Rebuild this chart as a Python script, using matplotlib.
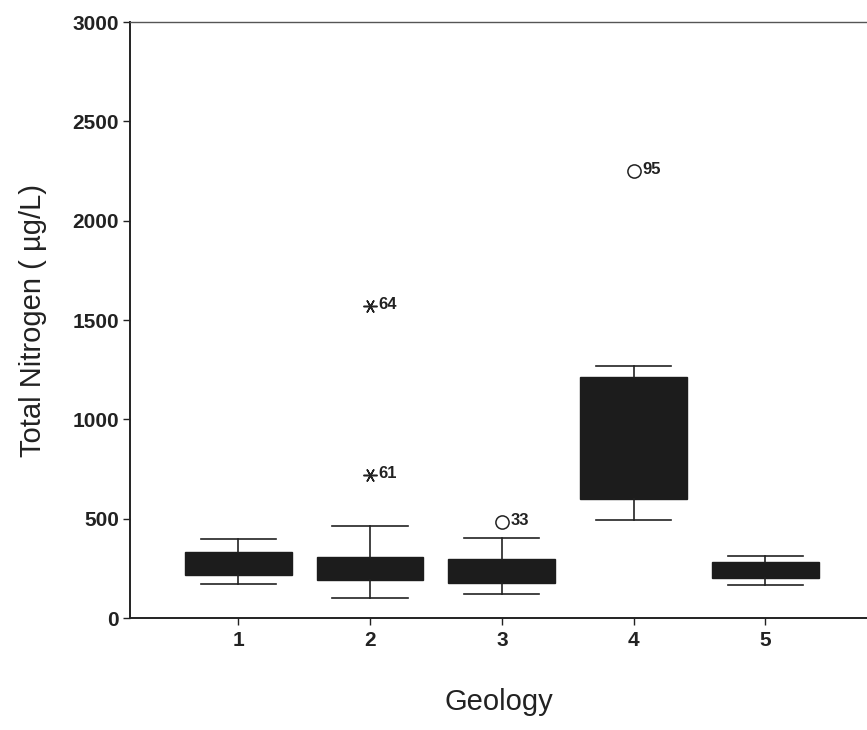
import matplotlib
matplotlib.use("Agg")
import matplotlib.pyplot as plt

plt.rcParams["font.family"] = ["Liberation Sans", "DejaVu Sans"]

# box summaries (ug/L)
geology = [1, 2, 3, 4, 5]
whisker_low = [172, 100, 120, 495, 165]
q1 = [215, 190, 178, 600, 200]
median = [280, 245, 235, 900, 235]
q3 = [332, 308, 295, 1215, 282]
whisker_high = [398, 465, 405, 1270, 312]

# labelled outliers: (group, value, case id, marker)
out_group = [2, 2, 3, 4]
out_value = [1570, 722, 485, 2250]
out_label = ["64", "61", "33", "95"]
out_kind = ["extreme", "extreme", "outlier", "outlier"]

stats = []
for i in range(len(geology)):
    stats.append({
        "whislo": whisker_low[i], "q1": q1[i], "med": median[i],
        "q3": q3[i], "whishi": whisker_high[i], "fliers": [],
    })

fig = plt.figure(figsize=(8.67, 7.3), dpi=100)
ax = fig.add_axes([0.150, 0.1534, 0.85, 0.8164])

ink = "#1c1c1c"
ax.bxp(
    stats,
    positions=geology,
    widths=0.81,
    capwidths=0.57,
    patch_artist=True,
    showfliers=False,
    boxprops=dict(facecolor=ink, edgecolor=ink, linewidth=1),
    medianprops=dict(color=ink, linewidth=1),
    whiskerprops=dict(color="#222222", linewidth=1.2),
    capprops=dict(color="#222222", linewidth=1.2),
)

for g, v, lab, kind in zip(out_group, out_value, out_label, out_kind):
    if kind == "extreme":
        ax.plot(g, v, marker=(6, 2, 90), markersize=10, color="#222222",
                markeredgewidth=1.1, linestyle="none")
    else:
        ax.plot(g, v, marker="o", markersize=9.5, markerfacecolor="white",
                markeredgecolor="#222222", markeredgewidth=1.1,
                linestyle="none")
    ax.annotate(lab, (g, v), xytext=(6, 1), textcoords="offset points",
                fontsize=12, fontweight="bold", va="center", ha="left",
                color="#222222")

ax.set_xlim(0.18, 5.77)
ax.set_ylim(0, 3000)
ax.set_yticks([0, 500, 1000, 1500, 2000, 2500, 3000])
ax.set_xticks(geology)
ax.set_xticklabels([str(g) for g in geology])

ax.spines["right"].set_visible(False)
ax.spines["left"].set_linewidth(1.4)
ax.spines["bottom"].set_linewidth(1.4)
ax.spines["top"].set_linewidth(1.0)
ax.spines["top"].set_color("#555555")
for s in ["left", "bottom"]:
    ax.spines[s].set_color("#222222")

ax.tick_params(axis="y", direction="out", length=5, width=1.0,
               labelsize=15, pad=3, colors="#222222")
ax.tick_params(axis="x", direction="out", length=5, width=1.0,
               labelsize=15, pad=4, colors="#222222")
for t in ax.get_xticklabels() + ax.get_yticklabels():
    t.set_fontweight("bold")

ax.set_ylabel("Total Nitrogen ( \u00b5g/L)", fontsize=21, labelpad=18,
              color="#222222")
ax.set_xlabel("Geology", fontsize=21, labelpad=28, color="#222222")

fig.savefig("out.png", dpi=100)
